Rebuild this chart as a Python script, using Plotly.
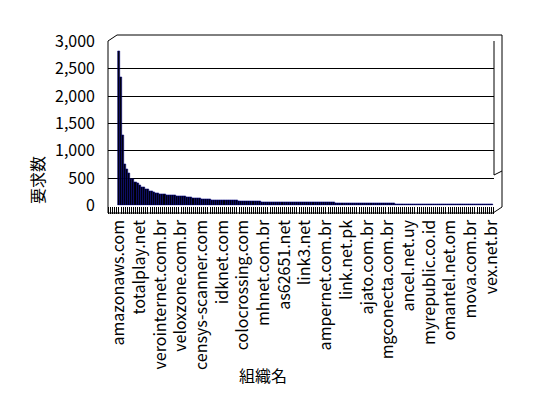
import plotly.graph_objects as go

# ---- data ----
values = [
    2820, 2350, 1280, 750, 655, 580, 485, 470, 420, 410,
    365, 340, 330, 295, 290, 265, 258, 235, 228, 215,
    212, 200, 198, 188, 184, 182, 180, 178, 176, 174,
    172, 165, 163, 146, 145, 144, 128, 127, 126, 125,
    116, 116, 115, 115, 114, 92, 92, 91, 91, 91,
    90, 90, 90, 89, 89, 89, 88, 88, 70, 70,
    70, 69, 69, 69, 69, 68, 68, 68, 68, 67,
    67, 67, 67, 66, 66, 66, 56, 56, 56, 56,
    55, 55, 55, 55, 55, 55, 55, 54, 54, 54,
    54, 54, 54, 54, 53, 53, 53, 53, 53, 53,
    53, 52, 52, 52, 52, 44, 44, 44, 44, 44,
    44, 44, 44, 43, 43, 43, 43, 43, 43, 43,
    43, 43, 42, 42, 42, 42, 42, 42, 42, 42,
    42, 42, 41, 41, 25, 25, 25, 25, 25, 25,
    24, 24, 24, 24, 24, 24, 24, 24, 24, 24,
    20, 20, 20, 20, 20, 20, 20, 20, 19, 19,
    19, 19, 19, 19, 19, 19, 19, 18, 18, 18,
    18, 18, 18, 18, 18, 18, 18, 18, 18, 18,
    18,
]
label_positions = [0, 10, 20, 30, 40, 50, 60, 70, 80, 90,
                   100, 110, 120, 130, 140, 150, 160, 170, 180]
tick_labels = [
    "amazonaws.com", "totalplay.net", "verointernet.com.br", "veloxzone.com.br",
    "censys-scanner.com", "idknet.com", "colocrossing.com", "mhnet.com.br",
    "as62651.net", "link3.net", "ampernet.com.br", "link.net.pk",
    "ajato.com.br", "mgconecta.com.br", "ancel.net.uy", "myrepublic.co.id",
    "omantel.net.om", "mova.com.br", "vex.net.br",
]
y_tick_values = [0, 500, 1000, 1500, 2000, 2500, 3000]
x_title = "組織名"
y_title = "要求数"

OFF = 8  # page body margin
W, H = 548 - 2 * OFF, 398 - 2 * OFF
FONT = "Noto Sans CJK JP"


def px(x):
    return (x - OFF) / W


def py(y):
    return 1 - (y - OFF) / H


fig = go.Figure(
    go.Bar(
        x=list(range(len(values))),
        y=values,
        marker=dict(color="black", line=dict(color="#000080", width=0.6)),
        width=1.0,
    )
)

frame = [
    ((108, 41), (108, 213)),
    ((108, 213), (493, 213)),
    ((493, 213), (502, 207)),
    ((502, 207), (502, 35)),
    ((117, 35), (502, 35)),
    ((108, 41), (117, 35)),
    ((494, 41), (494, 175)),
    ((494, 175), (502, 171)),
]
shapes = [
    dict(type="line", xref="paper", yref="paper",
         x0=px(a[0]), y0=py(a[1]), x1=px(b[0]), y1=py(b[1]),
         line=dict(color="black", width=1))
    for a, b in frame
]

fig.update_layout(
    width=W, height=H,
    margin=dict(l=0, r=0, t=0, b=0),
    paper_bgcolor="white", plot_bgcolor="white",
    showlegend=False,
    bargap=0,
    font=dict(family=FONT, size=15, color="black"),
    shapes=shapes,
    xaxis=dict(
        domain=[px(108), px(494)],
        range=[-5.3, 181.2],
        tickmode="array",
        tickvals=label_positions,
        ticktext=tick_labels,
        tickangle=-90,
        ticks="outside", ticklen=7, tickcolor="black", tickwidth=1,
        minor=dict(dtick=1, tick0=0, ticks="outside", ticklen=7,
                   tickcolor="black", tickwidth=1, showgrid=False),
        showgrid=False, zeroline=False, showline=False,
        tickfont=dict(family=FONT, size=16),
        automargin=False,
    ),
    yaxis=dict(
        domain=[py(205.5), py(41.3)],
        range=[0, 3000],
        tickvals=y_tick_values,
        tickformat=",d",
        showgrid=True, gridcolor="black", gridwidth=1,
        zeroline=False, showline=False,
        ticks="", ticklabelstandoff=12,
        tickfont=dict(family=FONT, size=16),
        automargin=False,
    ),
    annotations=[
        dict(text=x_title, xref="paper", yref="paper",
             x=px(263), y=py(375), xanchor="center", yanchor="middle",
             showarrow=False, font=dict(family=FONT, size=16)),
        dict(text=y_title, xref="paper", yref="paper",
             x=px(37), y=py(180), xanchor="center", yanchor="middle",
             showarrow=False, textangle=-90,
             font=dict(family=FONT, size=16)),
    ],
)

fig.write_html("out.html")
